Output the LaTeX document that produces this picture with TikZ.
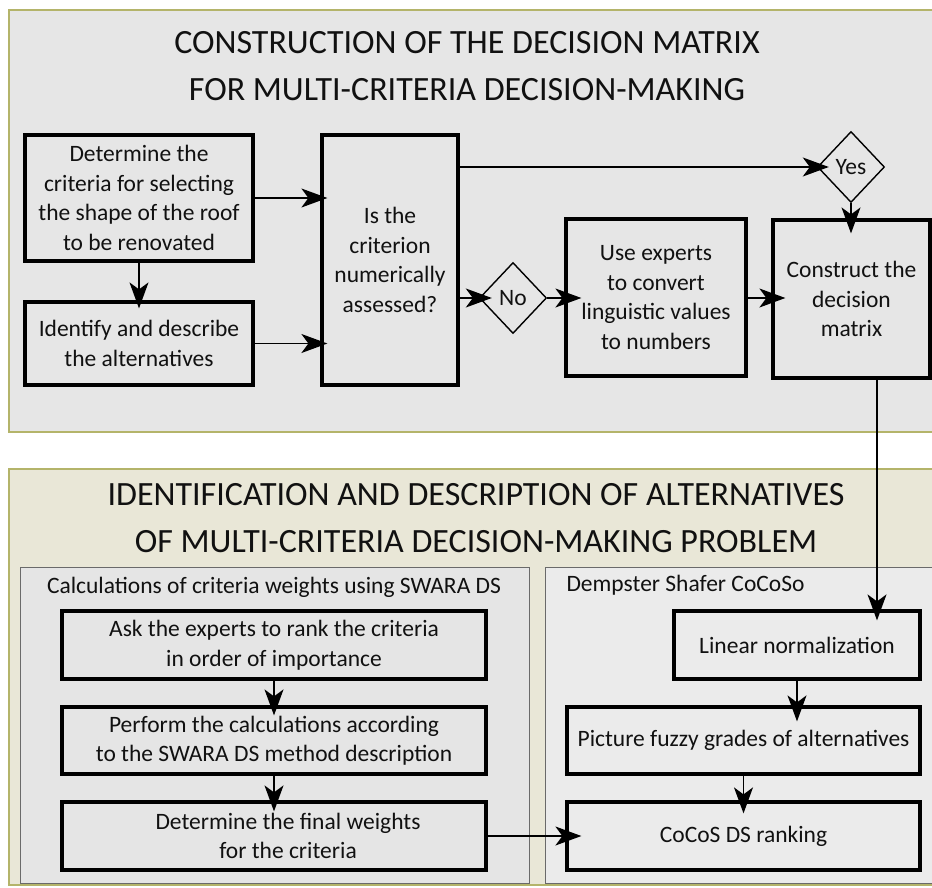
\documentclass[tikz,border=0pt]{standalone}
\usepackage{fontspec}
\setmainfont{Carlito}
\usetikzlibrary{shapes.geometric,arrows.meta}
\definecolor{topfill}{HTML}{E6E6E6}
\definecolor{topborder}{HTML}{B4B46A}
\definecolor{botfill}{HTML}{E9E7D7}
\definecolor{subfillL}{HTML}{E5E5E5}
\definecolor{subfillR}{HTML}{EBEBEB}
\definecolor{subborder}{HTML}{6A6A6A}
\definecolor{txt}{HTML}{111111}
\begin{document}
\begin{tikzpicture}[x=1pt,y=-1pt,
  every node/.style={text=txt},
  stepbox/.style={draw=black,line width=3.2pt,align=center,inner sep=2pt,
    font=\fontsize{23.5}{29.5}\selectfont},
  dec/.style={draw=black,line width=1.4pt,diamond,aspect=1,inner sep=0pt,
    minimum width=67pt,minimum height=71pt,font=\fontsize{23.5}{26}\selectfont},
  title/.style={align=center,font=\fontsize{34}{47}\selectfont},
  sublabel/.style={font=\fontsize{23.5}{26}\selectfont},
  arr/.style={line width=1.4pt,-{Stealth[length=26pt,width=19pt,inset=7pt]}},
]
\useasboundingbox (0,0) rectangle (932,888);
% panels
\draw[fill=topfill,draw=topborder,line width=1.5pt] (9,10) rectangle (950,432);
\draw[fill=botfill,draw=topborder,line width=1.5pt] (9,469) rectangle (950,885);
\draw[fill=subfillL,draw=subborder,line width=1pt] (20,567) rectangle (529,883);
\draw[fill=subfillR,draw=subborder,line width=1pt] (545,567) rectangle (950,883);

% titles
\node[title] (t1) at (467,66) {CONSTRUCTION OF THE DECISION MATRIX\\FOR MULTI-CRITERIA DECISION-MAKING};
\node[title] (t2) at (476,518) {IDENTIFICATION AND DESCRIPTION OF ALTERNATIVES\\OF MULTI-CRITERIA DECISION-MAKING PROBLEM};
\node[sublabel] (s1) at (274,587) {Calculations of criteria weights using SWARA DS};
\node[sublabel,anchor=west] (s2) at (563,585) {Dempster Shafer CoCoSo};

% top boxes
\node[stepbox,minimum width=228pt,minimum height=126pt] (A) at (139,198)
  {Determine the\\criteria for selecting\\the shape of the roof\\to be renovated};
\node[stepbox,minimum width=228pt,minimum height=83pt] (B) at (139,343.5)
  {Identify and describe\\the alternatives};
\node[stepbox,minimum width=136pt,minimum height=250pt] (C) at (390,260)
  {Is the\\criterion\\numerically\\assessed?};
\node[stepbox,minimum width=180pt,minimum height=157pt] (D) at (656,297.5)
  {Use experts\\to convert\\linguistic values\\to numbers};
\node[stepbox,minimum width=157pt,minimum height=158pt] (E) at (851.5,299)
  {Construct the\\decision\\matrix};
\node[dec] (No) at (513,298) {No};
\node[dec] (Yes) at (851,167) {Yes};

% bottom boxes
\node[stepbox,minimum width=424pt,minimum height=68pt] (L1) at (274,645)
  {Ask the experts to rank the criteria\\in order of importance};
\node[stepbox,minimum width=424pt,minimum height=67pt] (L2) at (274,740.5)
  {Perform the calculations according\\to the SWARA DS method description};
\node[stepbox,minimum width=424pt,minimum height=68pt] (L3) at (274,836)
  {\hspace*{28pt}Determine the final weights\\\hspace*{28pt}for the criteria};
\node[stepbox,minimum width=246pt,minimum height=68pt] (R1) at (797,645)
  {Linear normalization};
\node[stepbox,minimum width=353pt,minimum height=67pt] (R2) at (743.5,740.5)
  {Picture fuzzy grades of alternatives};
\node[stepbox,minimum width=353pt,minimum height=68pt] (R3) at (743.5,836)
  {CoCoS DS ranking};

% connectors top
\draw[arr,shorten >=-7pt] (A.east) -- (C.west |- A.east);
\draw[arr,shorten >=-7pt] (B.east) -- (C.west |- B.east);
\draw[arr,shorten >=-8pt] (A.south) -- (B.north);
\draw[arr,shorten >=-12pt] (C.east |- Yes.west) -- (Yes.west);
\draw[arr,shorten >=-13pt] (C.east |- No.west) -- (No.west);
\draw[arr,shorten >=-17pt] (No.east) -- (D.west |- No.east);
\draw[arr,shorten >=-14pt] (D.east |- No.east) -- (E.west |- No.east);
\draw[arr,shorten >=-15pt] (Yes.south) -- (E.north -| Yes.south);
\coordinate (ed) at (877,378);
\draw[arr,shorten >=-11pt] (E.south -| ed) -- (R1.north -| ed);

% connectors bottom
\draw[arr,shorten >=-10pt] (L1.south) -- (L2.north);
\draw[arr,shorten >=-11pt] (L2.south) -- (L3.north);
\draw[arr,shorten >=-16pt] (R1.south) -- (R2.north -| R1.south);
\draw[arr,shorten >=-13pt] (R2.south) -- (R3.north);
\draw[arr,shorten >=-16pt] (L3.east) -- (R3.west);
\end{tikzpicture}
\end{document}
